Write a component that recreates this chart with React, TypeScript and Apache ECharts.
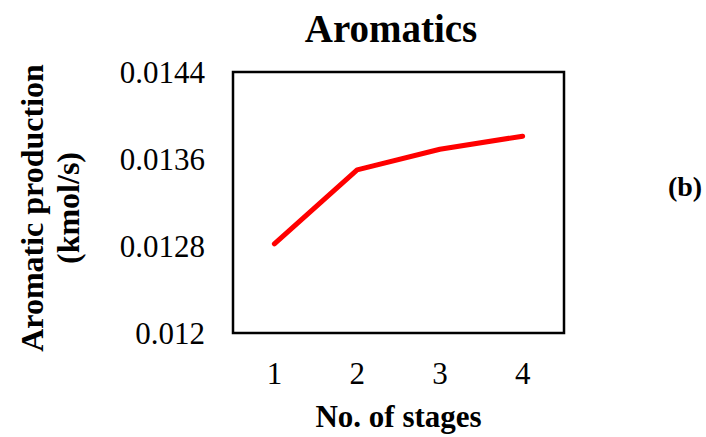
import React, { useEffect, useRef } from "react";
import * as echarts from "echarts";

const stages = ["1", "2", "3", "4"];
const aromaticProduction = [0.01282, 0.0135, 0.01369, 0.01381];
const yMin = 0.012;
const yMax = 0.0144;
const yStep = 0.0008;

const SERIF = "Liberation Serif, Times New Roman, serif";

export default function App() {
  const ref = useRef<HTMLDivElement>(null);

  useEffect(() => {
    if (!ref.current) return;
    const chart = echarts.init(ref.current, undefined, { renderer: "svg" });
    chart.setOption({
      animation: false,
      backgroundColor: "#ffffff",
      title: {
        text: "Aromatics",
        left: 386,
        top: 4,
        textAlign: "center",
        textStyle: { fontFamily: SERIF, fontSize: 39, fontWeight: "bold", color: "#000" },
      },
      grid: {
        left: 233,
        top: 72,
        width: 331,
        height: 265,
        show: true,
        borderColor: "#000",
        borderWidth: 2.5,
        backgroundColor: "transparent",
      },
      xAxis: {
        type: "category",
        data: stages,
        boundaryGap: true,
        axisLine: { show: false },
        axisTick: { show: false },
        axisLabel: { fontFamily: SERIF, fontSize: 31, color: "#000", margin: 25 },
        name: "No. of stages",
        nameLocation: "middle",
        nameGap: 68,
        nameTextStyle: { fontFamily: SERIF, fontSize: 31, fontWeight: "bold", color: "#000" },
        splitLine: { show: false },
      },
      yAxis: {
        type: "value",
        min: yMin,
        max: yMax,
        interval: yStep,
        axisLine: { show: false },
        axisTick: { show: false },
        splitLine: { show: false },
        axisLabel: {
          fontFamily: SERIF,
          fontSize: 31,
          color: "#000",
          margin: 28,
          formatter: (v: number) => String(parseFloat(v.toFixed(4))),
        },
      },
      graphic: [
        {
          type: "text",
          x: 50,
          y: 208,
          rotation: Math.PI / 2,
          style: {
            text: "Aromatic production\n(kmol/s)",
            textAlign: "center",
            textVerticalAlign: "middle",
            fontFamily: SERIF,
            fontSize: 32,
            fontWeight: "bold",
            lineHeight: 36,
            fill: "#000",
          },
        },
        {
          type: "text",
          x: 685,
          y: 186,
          style: {
            text: "(b)",
            textAlign: "center",
            textVerticalAlign: "middle",
            fontFamily: SERIF,
            fontSize: 28,
            fontWeight: "bold",
            fill: "#000",
          },
        },
      ],
      series: [
        {
          type: "line",
          data: aromaticProduction,
          showSymbol: false,
          symbol: "none",
          lineStyle: { color: "#ff0000", width: 5, cap: "round", join: "round" },
        },
      ],
    });
    return () => chart.dispose();
  }, []);

  return (
    <div
      ref={ref}
      style={{ position: "fixed", left: 0, top: 0, width: 706, height: 437 }}
    />
  );
}
